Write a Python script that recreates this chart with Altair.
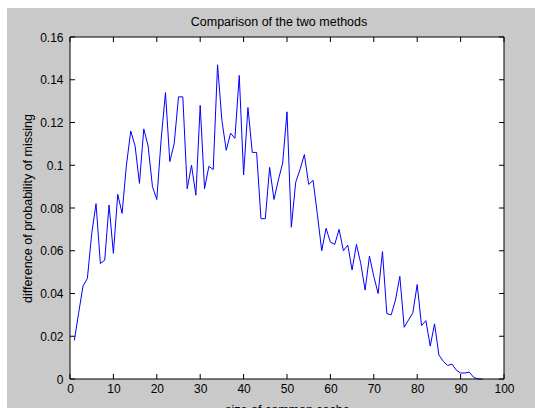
import altair as alt
import pandas as pd

# Cache size (x) and difference of miss probability between the two methods (y)
cache_size = list(range(1, 96))
diff_prob = [
    0.018, 0.031, 0.0435, 0.047, 0.068, 0.082, 0.054, 0.0556, 0.0814, 0.0588,
    0.0864, 0.0775, 0.100, 0.116, 0.109, 0.0915, 0.117, 0.109, 0.090, 0.084,
    0.112, 0.134, 0.1017, 0.110, 0.132, 0.132, 0.089, 0.100, 0.086, 0.128,
    0.089, 0.0995, 0.098, 0.147, 0.121, 0.107, 0.115, 0.1126, 0.142, 0.0955,
    0.127, 0.106, 0.106, 0.075, 0.075, 0.099, 0.084, 0.093, 0.101, 0.125,
    0.071, 0.092, 0.098, 0.105, 0.091, 0.093, 0.077, 0.060, 0.0705, 0.064,
    0.063, 0.070, 0.060, 0.0627, 0.051, 0.063, 0.054, 0.0416, 0.0575, 0.048,
    0.040, 0.0596, 0.0306, 0.030, 0.037, 0.048, 0.0242, 0.0276, 0.031, 0.0442,
    0.025, 0.0273, 0.0154, 0.0258, 0.0112, 0.0083, 0.0063, 0.007, 0.0042, 0.0028,
    0.0028, 0.0032, 0.0008, 0.0, 0.0,
]

x_ticks = [0, 10, 20, 30, 40, 50, 60, 70, 80, 90, 100]
y_ticks = [0, 0.02, 0.04, 0.06, 0.08, 0.1, 0.12, 0.14, 0.16]

TITLE = "Comparison of the two methods"

W, H = 434, 342
PAD_L, PAD_T, PAD_R, PAD_B = 70, 37, 31, 29
FIG_GRAY = "#c9c9c9"
FONT = "Liberation Sans"
TICK_LEN = 5

df = pd.DataFrame({"size": cache_size, "diff": diff_prob})
xt = pd.DataFrame({"size": x_ticks})
yt = pd.DataFrame({"diff": y_ticks})
one = pd.DataFrame({"k": [0]})

xs = alt.Scale(domain=[0, 100], nice=False, zero=False)
ys = alt.Scale(domain=[0, 0.16], nice=False, zero=False)

x_axis = alt.Axis(
    values=x_ticks, ticks=False, tickSize=0, domain=False, grid=False,
    labelFont=FONT, labelFontSize=12, labelColor="black", labelPadding=4,
    labelFlush=False, labelOverlap=False,
    title="size of common cache", titleFont=FONT, titleFontSize=12.5,
    titleFontWeight="normal", titleColor="black", titleY=24,
    titleBaseline="top", zindex=1,
)
y_axis = alt.Axis(
    values=y_ticks, format=".2~f", ticks=False, tickSize=0, domain=False, grid=False,
    labelFont=FONT, labelFontSize=12, labelColor="black", labelPadding=7,
    labelFlush=False, labelOverlap=False,
    title="difference of probability of missing", titleFont=FONT,
    titleFontSize=12.5, titleFontWeight="normal", titleColor="black",
    titleX=-43, titleAngle=270, titleAlign="center", titleBaseline="middle",
    zindex=1,
)

# figure background (gray) and white axes area
fig_bg = alt.Chart(one).mark_rect(fill=FIG_GRAY, stroke=None).encode(
    x=alt.value(-(PAD_L - 7)), x2=alt.value(W + PAD_R),
    y=alt.value(-(PAD_T - 8)), y2=alt.value(H + PAD_B),
)
ax_bg = alt.Chart(one).mark_rect(fill="white").encode(
    x=alt.value(0), x2=alt.value(W), y=alt.value(0), y2=alt.value(H),
)

line = alt.Chart(df).mark_line(color="#0000ff", strokeWidth=1).encode(
    x=alt.X("size:Q", scale=xs, axis=x_axis),
    y=alt.Y("diff:Q", scale=ys, axis=y_axis),
)

# inward ticks on all four sides
tick_style = dict(color="black", strokeWidth=1)
bottom_ticks = alt.Chart(xt).mark_rule(**tick_style).encode(
    x=alt.X("size:Q", scale=xs, axis=x_axis),
    y=alt.value(H), y2=alt.value(H - TICK_LEN),
)
top_ticks = alt.Chart(xt).mark_rule(**tick_style).encode(
    x=alt.X("size:Q", scale=xs, axis=x_axis),
    y=alt.value(0), y2=alt.value(TICK_LEN),
)
left_ticks = alt.Chart(yt).mark_rule(**tick_style).encode(
    y=alt.Y("diff:Q", scale=ys, axis=y_axis),
    x=alt.value(0), x2=alt.value(TICK_LEN),
)
right_ticks = alt.Chart(yt).mark_rule(**tick_style).encode(
    y=alt.Y("diff:Q", scale=ys, axis=y_axis),
    x=alt.value(W), x2=alt.value(W - TICK_LEN),
)

frame = alt.Chart(one).mark_rect(fill=None, stroke="black", strokeWidth=1).encode(
    x=alt.value(0), x2=alt.value(W), y=alt.value(0), y2=alt.value(H),
)

# chart title, centred a little left of the axes centre
title = alt.Chart(one).mark_text(
    text=TITLE, font=FONT, fontSize=12.5, color="black",
    align="center", baseline="alphabetic",
).encode(x=alt.value(W / 2 - 8), y=alt.value(-11))

chart = alt.layer(
    fig_bg, ax_bg, line, bottom_ticks, top_ticks, left_ticks, right_ticks,
    frame, title,
).properties(
    width=W, height=H,
    autosize=alt.AutoSizeParams(type="none"),
    padding={"left": PAD_L, "top": PAD_T, "right": PAD_R, "bottom": PAD_B},
    background="white",
).configure_view(stroke=None)

chart.save("out.html", embed_options={"renderer": "svg", "actions": False})
